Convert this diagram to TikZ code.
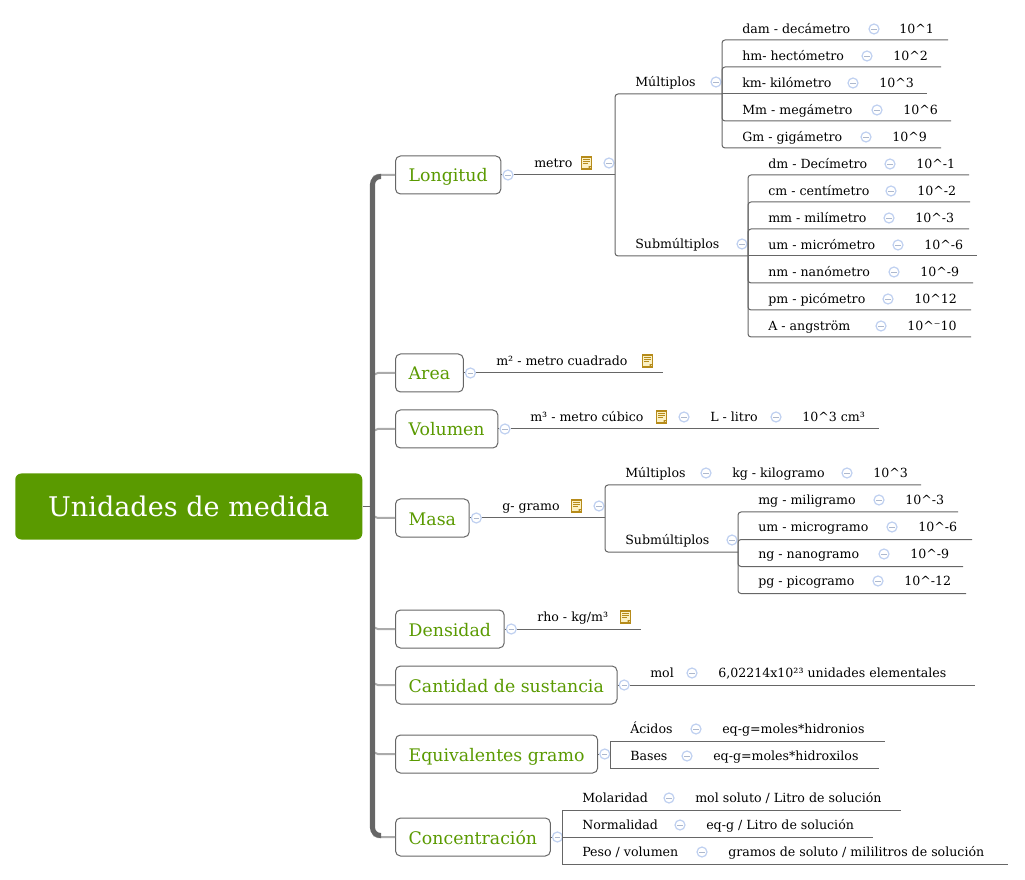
\documentclass[tikz,border=0pt]{standalone}
\usepackage{fontspec}
\setmainfont{DejaVu Serif}
\usepackage{xcolor}
\usetikzlibrary{positioning}
\definecolor{verde}{HTML}{5A9A00}
\definecolor{linea}{HTML}{666666}
\definecolor{azul}{HTML}{BFD0F0}
\definecolor{oro}{HTML}{B68B1A}
\definecolor{papel}{HTML}{FBF1C4}

\begin{document}
\begin{tikzpicture}[
            x=0.75pt, y=-0.75pt,
            node distance=0.75pt,
            root/.style={rectangle, rounded corners=4.5pt, fill=verde, text=white, font=\fontsize{20.3}{24}\selectfont, anchor=west, inner xsep=0pt, minimum width=260.25pt, minimum height=49.5pt, text height=15.5pt, text depth=0pt},
            topic/.style={rectangle, draw=linea, rounded corners=3.75pt, fill=white, text=verde, font=\fontsize{13}{15}\selectfont, anchor=west, inner xsep=9.9pt, minimum height=28.5pt, line width=0.75pt, text height=11pt, text depth=0.5pt},
            leaf/.style={anchor=west, inner sep=0pt, font=\fontsize{9.45}{12}\selectfont, text height=8.25pt, text depth=1.5pt},
            fold/.style={circle, draw=azul, fill=white, line width=0.9pt, inner sep=0pt, minimum size=7.5pt, path picture={\draw[azul!80!black!80, line width=0.6pt] ([xshift=-2pt]path picture bounding box.center) -- ([xshift=2pt]path picture bounding box.center);}},
            notepage/.style={rectangle, draw=oro, fill=papel, line width=1pt, inner sep=0pt, minimum width=7.5pt, minimum height=9.2pt, path picture={
                \draw[oro, line width=0.45pt] ([xshift=1.2pt,yshift=-1.8pt]path picture bounding box.north west) -- ([xshift=-1.2pt,yshift=-1.8pt]path picture bounding box.north east);
                \draw[oro, line width=0.45pt] ([xshift=1.2pt,yshift=-3.4pt]path picture bounding box.north west) -- ([xshift=-1.2pt,yshift=-3.4pt]path picture bounding box.north east);
                \draw[oro, line width=0.45pt] ([xshift=1.2pt,yshift=-5pt]path picture bounding box.north west) -- ([xshift=-2.6pt,yshift=-5pt]path picture bounding box.north east);
                \fill[oro] (path picture bounding box.south east) ++(-2.2pt,0) -- ++(0,2.2pt) -- ++(2.2pt,0) -- cycle;
            }},
            twig/.style={draw=linea, line width=0.75pt, rounded corners=2.25pt},
            squaretwig/.style={draw=linea, line width=0.75pt, sharp corners},
            limb/.style={draw=linea!55, line width=1.5pt, rounded corners=4pt},
            trunk/.style={draw=linea, line width=3.8pt, rounded corners=6pt}
        ]
            \useasboundingbox (0,0) rectangle (1025,880);

            % --- RAIZ ---
            \node[root] (raiz) at (15,506.5) {Unidades de medida};
            \coordinate (tronco) at (372.5,506.5);
            \coordinate (troncoarriba) at (381,176.5);
            \coordinate (troncoabajo) at (381,835.5);

            % --- TEMAS ---
            \node[topic] (longitud) at (395,175) {Longitud};
            \node[topic] (area) at (395,373) {Area};
            \node[topic] (volumen) at (395,429) {Volumen};
            \node[topic] (masa) at (395,518) {Masa};
            \node[topic] (densidad) at (395,629) {Densidad};
            \node[topic] (cantidad) at (395,685) {Cantidad de sustancia};
            \node[topic] (equivalentes) at (395,754) {Equivalentes gramo};
            \node[topic] (concentracion) at (395,837) {Concentración};

            \node[fold, right=of longitud] (longitudfold) {};
            \node[fold, right=of area] (areafold) {};
            \node[fold, right=of volumen] (volumenfold) {};
            \node[fold, right=of masa] (masafold) {};
            \node[fold, right=of densidad] (densidadfold) {};
            \node[fold, right=of cantidad] (cantidadfold) {};
            \node[fold, right=of equivalentes] (equivalentesfold) {};
            \node[fold, right=of concentracion] (concentracionfold) {};

            % --- LONGITUD ---
            \node[leaf] (metro) at (534,163) {metro};
            \node[notepage] (metronote) at (586.5,163) {};
            \node[fold] (metrofold) at (609,163) {};
            \coordinate (metrofork) at (615,175);

            \node[leaf] (mult) at (635,82) {Múltiplos};
            \node[fold] (multfold) at (716,82) {};
            \coordinate (multend) at (722,94);

            \node[leaf] (dam) at (742,29) {dam - decámetro};
            \node[fold] (damfold) at (874,29) {};
            \node[leaf] (damval) at (899,29) {10\textasciicircum 1};
            \coordinate (damend) at (948,40);

            \node[leaf] (hm) at (742,56) {hm- hectómetro};
            \node[fold] (hmfold) at (867,56) {};
            \node[leaf] (hmval) at (893,56) {10\textasciicircum 2};
            \coordinate (hmend) at (941,67);

            \node[leaf] (km) at (742,83) {km- kilómetro};
            \node[fold] (kmfold) at (853,83) {};
            \node[leaf] (kmval) at (879,83) {10\textasciicircum 3};
            \coordinate (kmend) at (927,94);

            \node[leaf] (mm) at (742,110) {Mm - megámetro};
            \node[fold] (mmfold) at (877,110) {};
            \node[leaf] (mmval) at (903,110) {10\textasciicircum 6};
            \coordinate (mmend) at (951,121);

            \node[leaf] (gm) at (742,137) {Gm - gigámetro};
            \node[fold] (gmfold) at (866,137) {};
            \node[leaf] (gmval) at (892,137) {10\textasciicircum 9};
            \coordinate (gmend) at (941,148);

            \node[leaf] (sub) at (635,244) {Submúltiplos};
            \node[fold] (subfold) at (742,244) {};
            \coordinate (subend) at (748,256);

            \node[leaf] (dmi) at (768,164) {dm - Decímetro};
            \node[fold] (dmifold) at (890,164) {};
            \node[leaf] (dmival) at (916,164) {10\textasciicircum -1};
            \coordinate (dmiend) at (969,175);

            \node[leaf] (cmi) at (768,191) {cm - centímetro};
            \node[fold] (cmifold) at (891,191) {};
            \node[leaf] (cmival) at (917,191) {10\textasciicircum -2};
            \coordinate (cmiend) at (970,202);

            \node[leaf] (mmi) at (768,218) {mm - milímetro};
            \node[fold] (mmifold) at (889,218) {};
            \node[leaf] (mmival) at (915,218) {10\textasciicircum -3};
            \coordinate (mmiend) at (969,229);

            \node[leaf] (umi) at (768,245) {um - micrómetro};
            \node[fold] (umifold) at (898,245) {};
            \node[leaf] (umival) at (924,245) {10\textasciicircum -6};
            \coordinate (umiend) at (977,256);

            \node[leaf] (nmi) at (768,272) {nm - nanómetro};
            \node[fold] (nmifold) at (894,272) {};
            \node[leaf] (nmival) at (920,272) {10\textasciicircum -9};
            \coordinate (nmiend) at (973,283);

            \node[leaf] (pmi) at (768,299) {pm - picómetro};
            \node[fold] (pmifold) at (888,299) {};
            \node[leaf] (pmival) at (914,299) {10\textasciicircum 12};
            \coordinate (pmiend) at (971,310);

            \node[leaf] (ang) at (768,326) {A - angström};
            \node[fold] (angfold) at (881,326) {};
            \node[leaf] (angval) at (907,326) {10\textasciicircum ⁻10};
            \coordinate (angend) at (971,337);

            % --- AREA ---
            \node[leaf] (cuadrado) at (496,361) {m² - metro cuadrado};
            \node[notepage] (cuadradonote) at (647.5,361) {};
            \coordinate (cuadradoend) at (663,373);

            % --- VOLUMEN ---
            \node[leaf] (cubico) at (530,417) {m³ - metro cúbico};
            \node[notepage] (cubiconote) at (661.5,417) {};
            \node[fold] (cubicofold) at (684,417) {};
            \node[leaf] (litro) at (710,417) {L - litro};
            \node[fold] (litrofold) at (776,417) {};
            \node[leaf] (litroval) at (802,417) {10\textasciicircum 3 cm³};
            \coordinate (litroend) at (879,429);

            % --- MASA ---
            \node[leaf] (gramo) at (502,506) {g- gramo};
            \node[notepage] (gramonote) at (576.5,506) {};
            \node[fold] (gramofold) at (599,506) {};
            \coordinate (gramofork) at (605,518);

            \node[leaf] (gmult) at (625,473) {Múltiplos};
            \node[fold] (gmultfold) at (706,473) {};
            \node[leaf] (kg) at (732,473) {kg - kilogramo};
            \node[fold] (kgfold) at (847,473) {};
            \node[leaf] (kgval) at (873,473) {10\textasciicircum 3};
            \coordinate (kgend) at (921,485);

            \node[leaf] (gsub) at (625,540) {Submúltiplos};
            \node[fold] (gsubfold) at (732,540) {};
            \coordinate (gsubend) at (738,552);

            \node[leaf] (mg) at (758,500) {mg - miligramo};
            \node[fold] (mgfold) at (879,500) {};
            \node[leaf] (mgval) at (905,500) {10\textasciicircum -3};
            \coordinate (mgend) at (958,512);

            \node[leaf] (ug) at (758,527) {um - microgramo};
            \node[fold] (ugfold) at (892,527) {};
            \node[leaf] (ugval) at (918,527) {10\textasciicircum -6};
            \coordinate (ugend) at (972,539.5);

            \node[leaf] (ng) at (758,554) {ng - nanogramo};
            \node[fold] (ngfold) at (884,554) {};
            \node[leaf] (ngval) at (910,554) {10\textasciicircum -9};
            \coordinate (ngend) at (963,566.5);

            \node[leaf] (pg) at (758,581) {pg - picogramo};
            \node[fold] (pgfold) at (878,581) {};
            \node[leaf] (pgval) at (904,581) {10\textasciicircum -12};
            \coordinate (pgend) at (966,593.5);

            % --- DENSIDAD ---
            \node[leaf] (rho) at (537,617) {rho - kg/m³};
            \node[notepage] (rhonote) at (625.5,617) {};
            \coordinate (rhoend) at (641,629);

            % --- CANTIDAD ---
            \node[leaf] (mol) at (650,673) {mol};
            \node[fold] (molfold) at (692,673) {};
            \node[leaf] (molval) at (718,673) {6,02214x10²³ unidades elementales};
            \coordinate (molend) at (975,685);

            % --- EQUIVALENTES ---
            \coordinate (eqfork) at (610,754);
            \node[leaf] (acidos) at (630,729) {Ácidos};
            \node[fold] (acidosfold) at (696,729) {};
            \node[leaf] (acidosval) at (722,729) {eq-g=moles*hidronios};
            \coordinate (acidosend) at (885,741);

            \node[leaf] (bases) at (630,756) {Bases};
            \node[fold] (basesfold) at (687,756) {};
            \node[leaf] (basesval) at (713,756) {eq-g=moles*hidroxilos};
            \coordinate (basesend) at (879,768);

            % --- CONCENTRACION ---
            \coordinate (confork) at (562,837);
            \node[leaf] (molaridad) at (582,798) {Molaridad};
            \node[fold] (molaridadfold) at (669,798) {};
            \node[leaf] (molaridadval) at (695,798) {mol soluto / Litro de solución};
            \coordinate (molaridadend) at (901,810);

            \node[leaf] (normalidad) at (582,825) {Normalidad};
            \node[fold] (normalidadfold) at (680,825) {};
            \node[leaf] (normalidadval) at (706,825) {eq-g / Litro de solución};
            \coordinate (normalidadend) at (873,837);

            \node[leaf] (peso) at (582,852) {Peso / volumen};
            \node[fold] (pesofold) at (702,852) {};
            \node[leaf] (pesoval) at (728,852) {gramos de soluto / mililitros de solución};
            \coordinate (pesoend) at (1008,864);

            % --- LIGACIONES ---
            \draw[limb] (tronco) |- (longitud.west);
            \draw[limb] (tronco) |- (area.west);
            \draw[limb] (tronco) |- (volumen.west);
            \draw[limb] (tronco) |- (masa.west);
            \draw[limb] (tronco) |- (densidad.west);
            \draw[limb] (tronco) |- (cantidad.west);
            \draw[limb] (tronco) |- (equivalentes.west);
            \draw[limb] (tronco) |- (concentracion.west);
            \draw[trunk] (troncoarriba) -| (tronco) |- (troncoabajo);
            \draw[squaretwig] (raiz.east) -- (tronco);

            \draw[twig] (longitud.east) -- (longitudfold.west);
            \draw[twig] (area.east) -- (areafold.west);
            \draw[twig] (volumen.east) -- (volumenfold.west);
            \draw[twig] (masa.east) -- (masafold.west);
            \draw[twig] (densidad.east) -- (densidadfold.west);
            \draw[twig] (cantidad.east) -- (cantidadfold.west);
            \draw[twig] (equivalentes.east) -- (equivalentesfold.west);
            \draw[twig] (concentracion.east) -- (concentracionfold.west);

            \draw[twig] (longitudfold.east) -- (metrofork);
            \draw[twig] (metrofork) |- (multend);
            \draw[twig] (metrofork) |- (subend);
            \draw[twig] (multend) |- (damend);
            \draw[twig] (multend) |- (hmend);
            \draw[twig] (multend) -- (kmend);
            \draw[twig] (multend) |- (mmend);
            \draw[twig] (multend) |- (gmend);
            \draw[twig] (subend) |- (dmiend);
            \draw[twig] (subend) |- (cmiend);
            \draw[twig] (subend) |- (mmiend);
            \draw[twig] (subend) -- (umiend);
            \draw[twig] (subend) |- (nmiend);
            \draw[twig] (subend) |- (pmiend);
            \draw[twig] (subend) |- (angend);

            \draw[twig] (areafold.east) -- (cuadradoend);
            \draw[twig] (volumenfold.east) -- (litroend);

            \draw[twig] (masafold.east) -- (gramofork);
            \draw[twig] (gramofork) |- (kgend);
            \draw[twig] (gramofork) |- (gsubend);
            \draw[twig] (gsubend) |- (mgend);
            \draw[twig] (gsubend) |- (ugend);
            \draw[twig] (gsubend) |- (ngend);
            \draw[twig] (gsubend) |- (pgend);

            \draw[twig] (densidadfold.east) -- (rhoend);
            \draw[twig] (cantidadfold.east) -- (molend);

            \draw[twig] (equivalentesfold.east) -- (eqfork);
            \draw[squaretwig] (eqfork) |- (acidosend);
            \draw[squaretwig] (eqfork) |- (basesend);

            \draw[twig] (concentracionfold.east) -- (confork);
            \draw[squaretwig] (confork) |- (molaridadend);
            \draw[squaretwig] (confork) -- (normalidadend);
            \draw[squaretwig] (confork) |- (pesoend);
        \end{tikzpicture}
\end{document}
